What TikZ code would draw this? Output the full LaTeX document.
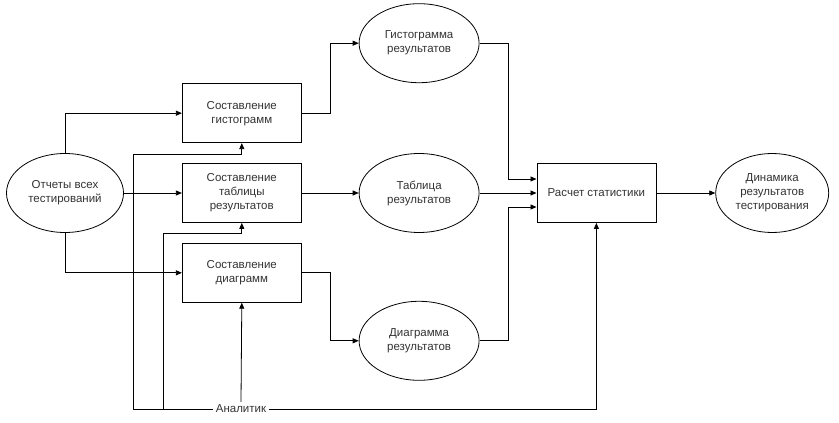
\documentclass[tikz,border=0pt]{standalone}
\usepackage{fontspec}
\setmainfont{Liberation Sans}
\usepackage{tikz}
\usetikzlibrary{positioning, arrows.meta, shapes.geometric}

\begin{document}
\begin{tikzpicture}[
  x=1pt, y=1pt,
  node distance=20pt and 58pt,
  block/.style={rectangle, draw, line width=0.8pt, minimum width=119pt, minimum height=59pt, inner sep=2pt, text centered, text=black!80, font=\fontsize{11.5}{14}\selectfont},
  oval/.style={ellipse, draw, line width=0.8pt, minimum width=120pt, minimum height=79pt, inner sep=0pt, text centered, text=black!80, font=\fontsize{11.5}{14}\selectfont},
  arrow/.style={-{Triangle[length=6pt, width=5pt]}, line width=0.8pt},
  every node/.style={align=center}
]
\useasboundingbox (0,0) rectangle (839,-423);

%% Input
\node[oval, minimum width=117pt] (reports) at (65,-193) {Отчеты всех\\тестирований};

%% Processing blocks
\node[block, right=58pt of reports] (tabl) {Составление\\таблицы\\результатов};
\node[block, above=20pt of tabl] (hist) {Составление\\гистограмм};
\node[block, below=20pt of tabl] (diag) {Составление\\диаграмм};

%% Intermediate results
\node[oval, right=57pt of tabl] (tablres) {Таблица\\результатов};
\node[oval, above=70pt of tablres] (histres) {Гистограмма\\результатов};
\node[oval, below=68pt of tablres] (diagres) {Диаграмма\\результатов};

%% Statistics and output
\node[block, right=57pt of tablres] (stat) {Расчет статистики};
\node[oval, minimum width=113pt, right=59pt of stat] (dyn) {Динамика\\результатов\\тестирования};

%% Analyst
\node[inner sep=3pt, text=black!80, font=\fontsize{11.5}{14}\selectfont] (analyst) at (241,-409) {Аналитик};

%% Connections
\draw[arrow] (reports.north) |- (hist.west);
\draw[arrow] (reports.east) -- (tabl.west);
\draw[arrow] (reports.south) |- (diag.west);

\draw[arrow] (hist.east) -- ++(29pt,0) |- (histres.west);
\draw[arrow] (tabl.east) -- (tablres.west);
\draw[arrow] (diag.east) -- ++(29pt,0) |- (diagres.west);

\draw[arrow] (histres.east) -- ++(29pt,0) |- ([yshift=14pt]stat.west);
\draw[arrow] (tablres.east) -- (stat.west);
\draw[arrow] (diagres.east) -- ++(29pt,0) |- ([yshift=-14pt]stat.west);
\draw[arrow] (stat.east) -- (dyn.west);

\draw[arrow] (analyst.west) -| ([xshift=-108pt, yshift=-11pt]hist.south) -- ([yshift=-11pt]hist.south) -- (hist.south);
\draw[arrow] (analyst.west) -| ([xshift=-78pt, yshift=-10pt]tabl.south) -- ([yshift=-10pt]tabl.south) -- (tabl.south);
\draw[arrow] (analyst.north) -- (diag.south);
\draw[arrow] (analyst.east) -| (stat.south);

\end{tikzpicture}
\end{document}
